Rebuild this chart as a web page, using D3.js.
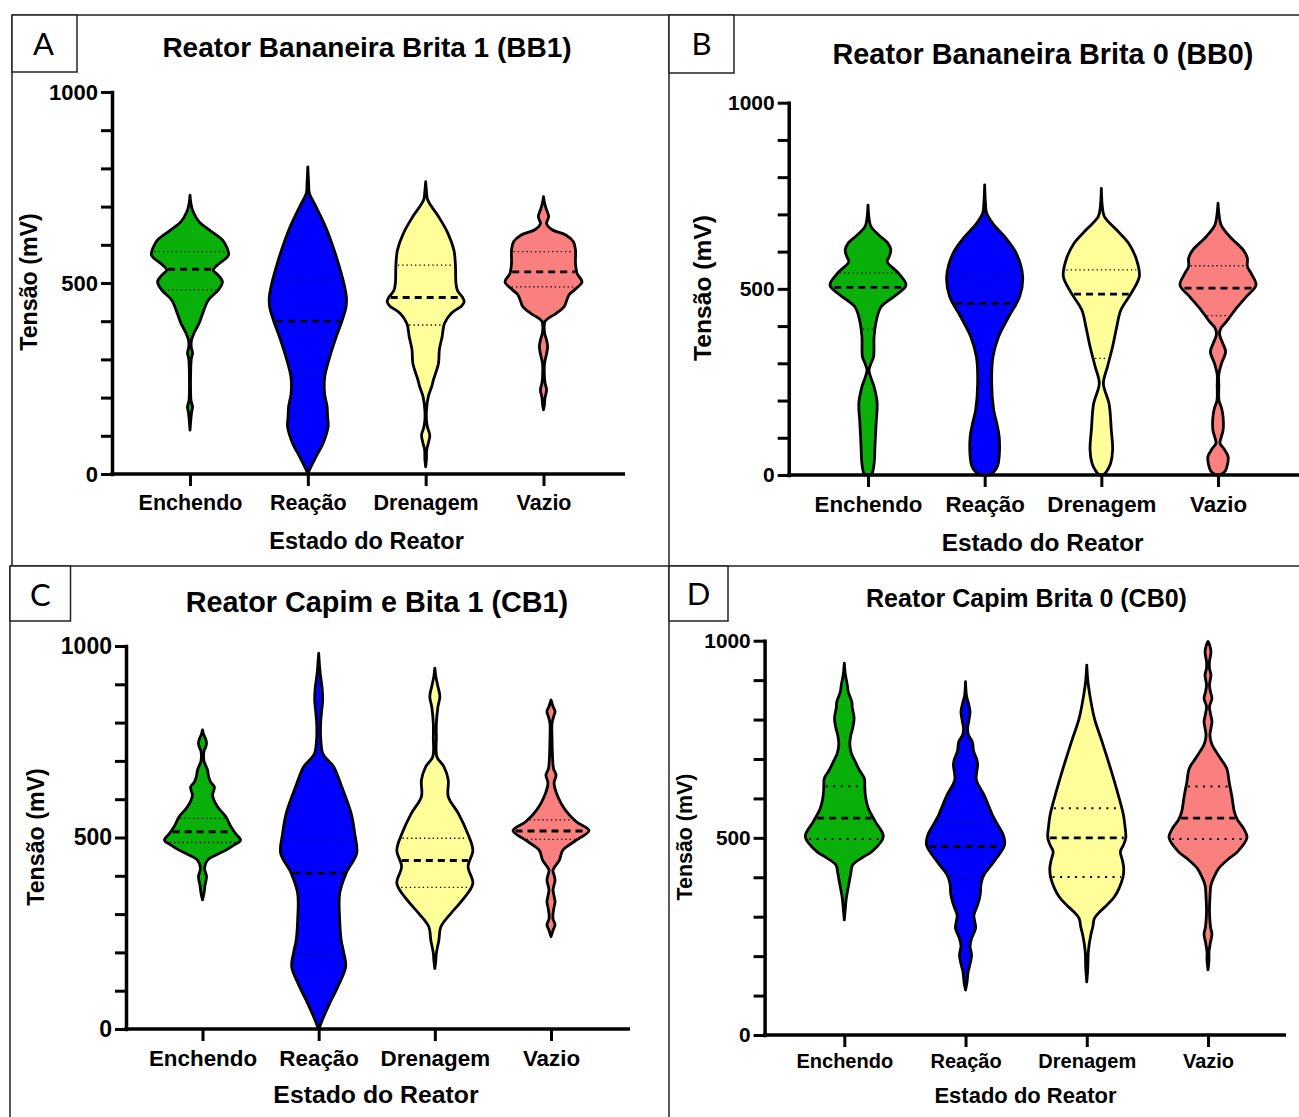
<!DOCTYPE html>
<html>
<head>
<meta charset="utf-8">
<script src="https://cdn.jsdelivr.net/npm/d3@7"></script>
<style>
  body { margin: 0; background: #fff; }
  svg { display: block; }
</style>
</head>
<body>
<svg id="fig" width="1299" height="1117"></svg>
<script>
// ---------- data ----------
const categories = ["Enchendo", "Reação", "Drenagem", "Vazio"];
const panelLetters = ["A", "B", "C", "D"];
const panelTitles = [
  "Reator Bananeira Brita 1 (BB1)",
  "Reator Bananeira Brita 0 (BB0)",
  "Reator Capim e Bita 1 (CB1)",
  "Reator Capim Brita 0 (CB0)"
];
const xTitle = "Estado do Reator";
const yTitle = "Tensão (mV)";
const yTickValues = [0, 100, 200, 300, 400, 500, 600, 700, 800, 900, 1000];
const yTickLabels = [0, 500, 1000];

// violin profiles: [tensão (mV), relative density]
const bb1Enchendo = [[115,0],[135,0.6],[160,1.5],[176,2.5],[192,1],[215,0.6],[260,0.6],[300,1.2],[317,2.5],[333,1.2],[351,1.5],[369,4],[395,9],[420,12.5],[455,18],[482,28],[503,32],[520,28],[534,23],[547,27],[573,38],[595,36],[613,32],[639,19],[660,9],[687,3],[710,0.8],[730,0]];
const bb1Reacao = [[0,0],[10,1.5],[45,8],[80,15],[124,20],[150,19.5],[176,19],[211,16.5],[255,16.7],[307,21.7],[359,28],[403,34],[438,37.7],[464,38],[500,35.5],[525,33],[586,26],[647,17.5],[700,8],[735,1.5],[760,0.8],[804,0]];
const bb1Drenagem = [[19,0],[40,0.8],[63,1],[85,3],[102,4],[120,2],[140,0.8],[168,0.8],[202,2.5],[230,6],[246,7.5],[290,12.5],[325,13.3],[359,16],[394,18.3],[421,25],[440,35],[451,37.5],[462,36],[480,31],[500,29.5],[547,29],[586,27.5],[630,21.7],[674,12.5],[717,2],[740,0.8],[765,0]];
const bb1Vazio = [[168,0],[180,0.8],[200,1.5],[220,3],[238,1.5],[260,0.8],[290,1],[315,3],[333,4],[350,3],[370,1],[390,0.8],[400,1.5],[410,6],[420,12],[438,20],[455,22.5],[470,25],[482,30],[503,37.3],[525,32.5],[552,31],[586,31],[608,29],[625,22],[640,8],[655,3],[674,5],[695,2.5],[710,1],[726,0]];

const bb0Enchendo = [[0,2],[4,4],[31,6],[85,7],[139,8],[193,9],[237,6],[260,3],[282,1],[300,3],[318,5.5],[372,6],[416,8.3],[452,13],[484,28],[510,37.5],[542,30],[573,19],[587,21],[605,22.5],[625,19],[640,12.5],[667,3],[690,1],[725,0]];
const bb0Reacao = [[0,4],[8,9],[25,13],[49,14.5],[103,14.5],[140,12],[175,9],[246,7],[318,8.3],[372,14],[425,24],[479,35],[533,38],[595,31.7],[640,20],[676,8],[703,2],[730,0.8],[779,0]];
const bb0Drenagem = [[0,2],[9,5],[31,9],[67,11],[121,9.7],[192,7.5],[246,2],[291,6],[345,11],[398,15],[443,19],[488,29],[533,37],[578,34.3],[622,26.7],[658,15],[694,3],[720,1],[770,0]];
const bb0Vazio = [[0,2],[10,7],[30,9.5],[49,10],[70,6],[85,2],[100,3],[120,5],[156,5],[180,3.5],[200,1],[240,0.8],[270,0.8],[300,3.5],[331,7.5],[355,4.5],[378,1.5],[395,3],[412,8.3],[443,16.7],[479,28],[510,37.5],[540,33],[560,29],[582,29],[604,25],[640,11.7],[672,3],[700,1],[730,0]];

const cb1Enchendo = [[337,0],[355,1.5],[375,2.5],[398,4],[420,2],[441,5],[455,14],[467,23.3],[480,31],[493,37.8],[510,33],[528,28.3],[554,23.3],[580,15],[600,11],[611,10],[625,11.5],[633,11.7],[645,8],[660,6],[676,5],[700,1.5],[725,1.5],[735,3],[746,4],[758,3],[770,1],[781,0]];
const cb1Reacao = [[0,0],[6,1],[32,5],[67,11],[110,19],[163,27],[200,25],[232,22.5],[285,21],[354,21],[407,27.5],[459,38],[511,36],[563,32.5],[633,23],[685,15],[705,8],[720,4],[760,2],[800,2],[830,3],[859,4],[889,3.5],[930,1.5],[981,0]];
const cb1Drenagem = [[158,0],[180,1],[198,1.5],[232,4],[267,6],[302,16],[337,27.5],[380,37.7],[424,33],[467,37.7],[511,32.5],[563,23.3],[607,13.3],[650,13.3],[685,9],[711,2],[760,1.5],[798,1.5],[840,3],[868,5],[895,3],[920,1],[942,0]];
const cb1Vazio = [[241,0],[258,2],[272,4],[287,2],[302,2],[318,3],[332,4],[347,3],[363,2],[376,3],[389,4],[402,3],[415,2],[441,8.3],[467,11.7],[493,25],[518,37.5],[541,25],[572,14],[607,6.7],[642,3],[663,5],[680,2.5],[711,1.5],[760,1],[798,1],[815,2.5],[829,4],[842,2],[859,0]];

const cb0Enchendo = [[292,0],[320,1],[347,2],[389,5],[410,6.5],[431,8.3],[450,18],[465,27.5],[503,39],[541,31],[575,24],[609,21],[630,20.5],[651,20],[672,15],[693,11],[715,7],[738,5.5],[760,6.5],[780,8.5],[803,9.8],[830,8],[845,7.5],[870,4],[888,3],[915,1],[943,0]];
const cb0Reacao = [[114,0],[135,1.5],[160,2.5],[180,4.5],[203,6],[225,4.5],[245,6],[271,10],[290,9],[304,8.3],[330,12],[355,14.5],[385,15.5],[406,18.3],[440,28.3],[482,38.7],[507,37.5],[533,32],[558,26.7],[609,18.3],[635,12.5],[650,10.5],[665,11],[686,12],[700,11],[720,8],[744,6.7],[760,3],[778,2],[800,3.5],[820,4.5],[840,3],[860,1],[896,0]];
const cb0Drenagem = [[135,0],[170,1],[211,1.5],[254,4],[275,6],[296,7.5],[313,13],[330,20],[350,27],[372,31.7],[400,35.5],[423,36.3],[443,35],[465,33],[482,36],[500,38.3],[530,37.5],[558,36],[617,30],[676,23.3],[744,15],[803,7.5],[862,3],[900,1],[938,0]];
const cb0Vazio = [[165,0],[190,1],[211,1],[235,2.5],[256,4],[275,2.5],[313,1.5],[350,2],[380,3],[400,6],[423,11],[445,20],[465,30],[501,39.5],[524,36],[545,30],[566,26.7],[600,24.5],[617,23.3],[640,21.5],[676,19],[700,13],[718,8.3],[740,3.5],[761,2],[778,3],[795,4],[815,2.5],[833,1.5],[854,4],[870,2.5],[888,1.5],[913,3],[930,1.5],[947,1.5],[972,3],[990,1.5],[998,0]];

// [1º quartil, mediana, 3º quartil] per category
const bb1Quartiles = [[482,536,582],[262,400,508],[390,462,547],[490,529,582]];
const bb0Quartiles = [[392,504,542],[250,461,537],[313,486,551],[428,502,562]];
const cb1Quartiles = [[487,515,550],[193,407,493],[370,440,498],[495,517,546]];
const cb0Quartiles = [[497,550,631],[402,478,541],[401,500,575],[497,550,630]];

const panelProfiles = [
  [bb1Enchendo, bb1Reacao, bb1Drenagem, bb1Vazio],
  [bb0Enchendo, bb0Reacao, bb0Drenagem, bb0Vazio],
  [cb1Enchendo, cb1Reacao, cb1Drenagem, cb1Vazio],
  [cb0Enchendo, cb0Reacao, cb0Drenagem, cb0Vazio]
];
const panelQuartiles = [bb1Quartiles, bb0Quartiles, cb1Quartiles, cb0Quartiles];

// ---------- styles & layout ----------
const fills = ["#0ab00a", "#0000ff", "#ffff99", "#fa8080"];
const quartileInk = ["#000", "#00006e", "#000", "#000"];
const FONT = "'Liberation Sans', Arial, Helvetica, sans-serif";

const layout = [
  { left: 112, y0: 474, y1000: 92, cat: [190, 543.5], xEnd: 625, half: 38.5,
    title: [367, 47, 28], tickFont: 22, xLab: [502.5, 21.5], xTitle: [366.6, 540.3, 23.5],
    yTitle: [29, 282, 23.2], box: [12, 15, 65, 57], letter: [43.5, 44], dots: "1.3,3", dotW: 1.3 },
  { left: 788.7, y0: 475, y1000: 102.7, cat: [868, 1218], xEnd: 1299, half: 38,
    title: [1043, 54, 28.8], tickFont: 21, xLab: [504.4, 22.3], xTitle: [1042.6, 542.3, 24.4],
    yTitle: [702, 288, 24.6], box: [669, 15, 65, 58], letter: [701.5, 44], dots: "1.3,3", dotW: 1.3 },
  { left: 126, y0: 1029, y1000: 646, cat: [202.5, 551], xEnd: 630, half: 38,
    title: [377, 602, 28.8], tickFont: 23, xLab: [1057.8, 22.4], xTitle: [376, 1094.8, 24.8],
    yTitle: [36, 837, 23.2], box: [10, 566, 60.5, 55], letter: [40.3, 595], dots: "1.3,3", dotW: 1.3 },
  { left: 764.6, y0: 1035, y1000: 640.7, cat: [844.3, 1208], xEnd: 1286, half: 39,
    title: [1026.5, 598.4, 25], tickFont: 20.8, xLab: [1061.3, 20], xTitle: [1025.5, 1094.8, 22],
    yTitle: [684, 837, 21.4], box: [669, 566, 59, 55], letter: [698.5, 594], dots: "2,5.5", dotW: 2 }
];

const frameSegments = [
  [12, 15, 1299, 15],
  [12, 15, 12, 566],
  [10, 566, 10, 1117],
  [669, 15, 669, 1117],
  [10, 566, 1299, 566]
];

// ---------- drawing ----------
const svg = d3.select("#fig");

svg.append("g")
  .attr("stroke", "#222").attr("stroke-width", 1.5)
  .selectAll("line").data(frameSegments).join("line")
  .attr("x1", d => d[0]).attr("y1", d => d[1])
  .attr("x2", d => d[2]).attr("y2", d => d[3]);

function widthAt(profile, v) {
  const i = d3.bisector(d => d[0]).left(profile, v);
  if (i <= 0) return profile[0][1];
  if (i >= profile.length) return profile[profile.length - 1][1];
  const a = profile[i - 1], b = profile[i];
  return a[1] + (b[1] - a[1]) * (v - a[0]) / (b[0] - a[0]);
}

layout.forEach((L, p) => {
  const g = svg.append("g");
  const y = d3.scaleLinear().domain([0, 1000]).range([L.y0, L.y1000]);
  const x = d3.scalePoint().domain(categories).range(L.cat);

  // violins
  categories.forEach((c, i) => {
    const prof = panelProfiles[p][i];
    const cx = x(c);
    const w = d3.scaleLinear().domain([0, d3.max(prof, d => d[1])]).range([0, L.half]);
    const area = d3.area()
      .curve(d3.curveCatmullRom.alpha(0.5))
      .y(d => y(d[0]))
      .x0(d => cx - w(d[1]))
      .x1(d => cx + w(d[1]));
    g.append("path")
      .attr("d", area(prof))
      .attr("fill", fills[i])
      .attr("stroke", "#000")
      .attr("stroke-width", 2.8)
      .attr("stroke-linejoin", "round");

    const [q1, med, q3] = panelQuartiles[p][i];
    [q1, q3].forEach(q => {
      const hw = Math.max(0, w(widthAt(prof, q)) - 2);
      g.append("line")
        .attr("x1", cx - hw).attr("x2", cx + hw)
        .attr("y1", y(q)).attr("y2", y(q))
        .attr("stroke", quartileInk[i])
        .attr("stroke-width", L.dotW)
        .attr("stroke-dasharray", L.dots);
    });
    const mw = Math.max(0, w(widthAt(prof, med)) - 2);
    g.append("line")
      .attr("x1", cx - mw).attr("x2", cx + mw)
      .attr("y1", y(med)).attr("y2", y(med))
      .attr("stroke", "#000")
      .attr("stroke-width", 2.8)
      .attr("stroke-dasharray", "7,5");
  });

  // y axis
  const yAxis = d3.axisLeft(y)
    .tickValues(yTickValues)
    .tickSize(11).tickSizeOuter(0).tickPadding(3)
    .tickFormat(d => yTickLabels.includes(d) ? d : "");
  const ya = g.append("g").attr("transform", `translate(${L.left},0)`).call(yAxis);
  ya.select(".domain").attr("stroke", "#000").attr("stroke-width", 3.5).attr("stroke-linecap", "square");
  ya.selectAll(".tick line").attr("stroke", "#000").attr("stroke-width", 3);
  ya.selectAll(".tick text")
    .attr("fill", "#000")
    .style("font-family", FONT).style("font-weight", "bold")
    .style("font-size", L.tickFont + "px");

  // x axis
  const xAxis = d3.axisBottom(x).tickSize(12).tickSizeOuter(0);
  const xa = g.append("g").attr("transform", `translate(0,${L.y0})`).call(xAxis);
  xa.select(".domain").remove();
  xa.selectAll(".tick line").attr("stroke", "#000").attr("stroke-width", 3);
  xa.selectAll(".tick text")
    .attr("y", L.xLab[0] - L.y0).attr("dy", "0.35em")
    .attr("fill", "#000")
    .style("font-family", FONT).style("font-weight", "bold")
    .style("font-size", L.xLab[1] + "px");
  g.append("line")
    .attr("x1", L.left - 1.75).attr("x2", L.xEnd)
    .attr("y1", L.y0).attr("y2", L.y0)
    .attr("stroke", "#000").attr("stroke-width", 3.5);

  // titles
  g.append("text")
    .attr("x", L.title[0]).attr("y", L.title[1]).attr("dy", "0.35em")
    .attr("text-anchor", "middle")
    .style("font-family", FONT).style("font-weight", "bold")
    .style("font-size", L.title[2] + "px")
    .text(panelTitles[p]);
  g.append("text")
    .attr("x", L.xTitle[0]).attr("y", L.xTitle[1]).attr("dy", "0.35em")
    .attr("text-anchor", "middle")
    .style("font-family", FONT).style("font-weight", "bold")
    .style("font-size", L.xTitle[2] + "px")
    .text(xTitle);
  g.append("text")
    .attr("transform", `translate(${L.yTitle[0]},${L.yTitle[1]}) rotate(-90)`)
    .attr("dy", "0.35em")
    .attr("text-anchor", "middle")
    .style("font-family", FONT).style("font-weight", "bold")
    .style("font-size", L.yTitle[2] + "px")
    .text(yTitle);

  // panel letter box
  g.append("rect")
    .attr("x", L.box[0]).attr("y", L.box[1])
    .attr("width", L.box[2]).attr("height", L.box[3])
    .attr("fill", "#fff").attr("stroke", "#222").attr("stroke-width", 1.5);
  g.append("text")
    .attr("x", L.letter[0]).attr("y", L.letter[1]).attr("dy", "0.36em")
    .attr("text-anchor", "middle")
    .style("font-family", "Lato, 'Open Sans', sans-serif")
    .style("font-size", "31px")
    .text(panelLetters[p]);
});
</script>
</body>
</html>
